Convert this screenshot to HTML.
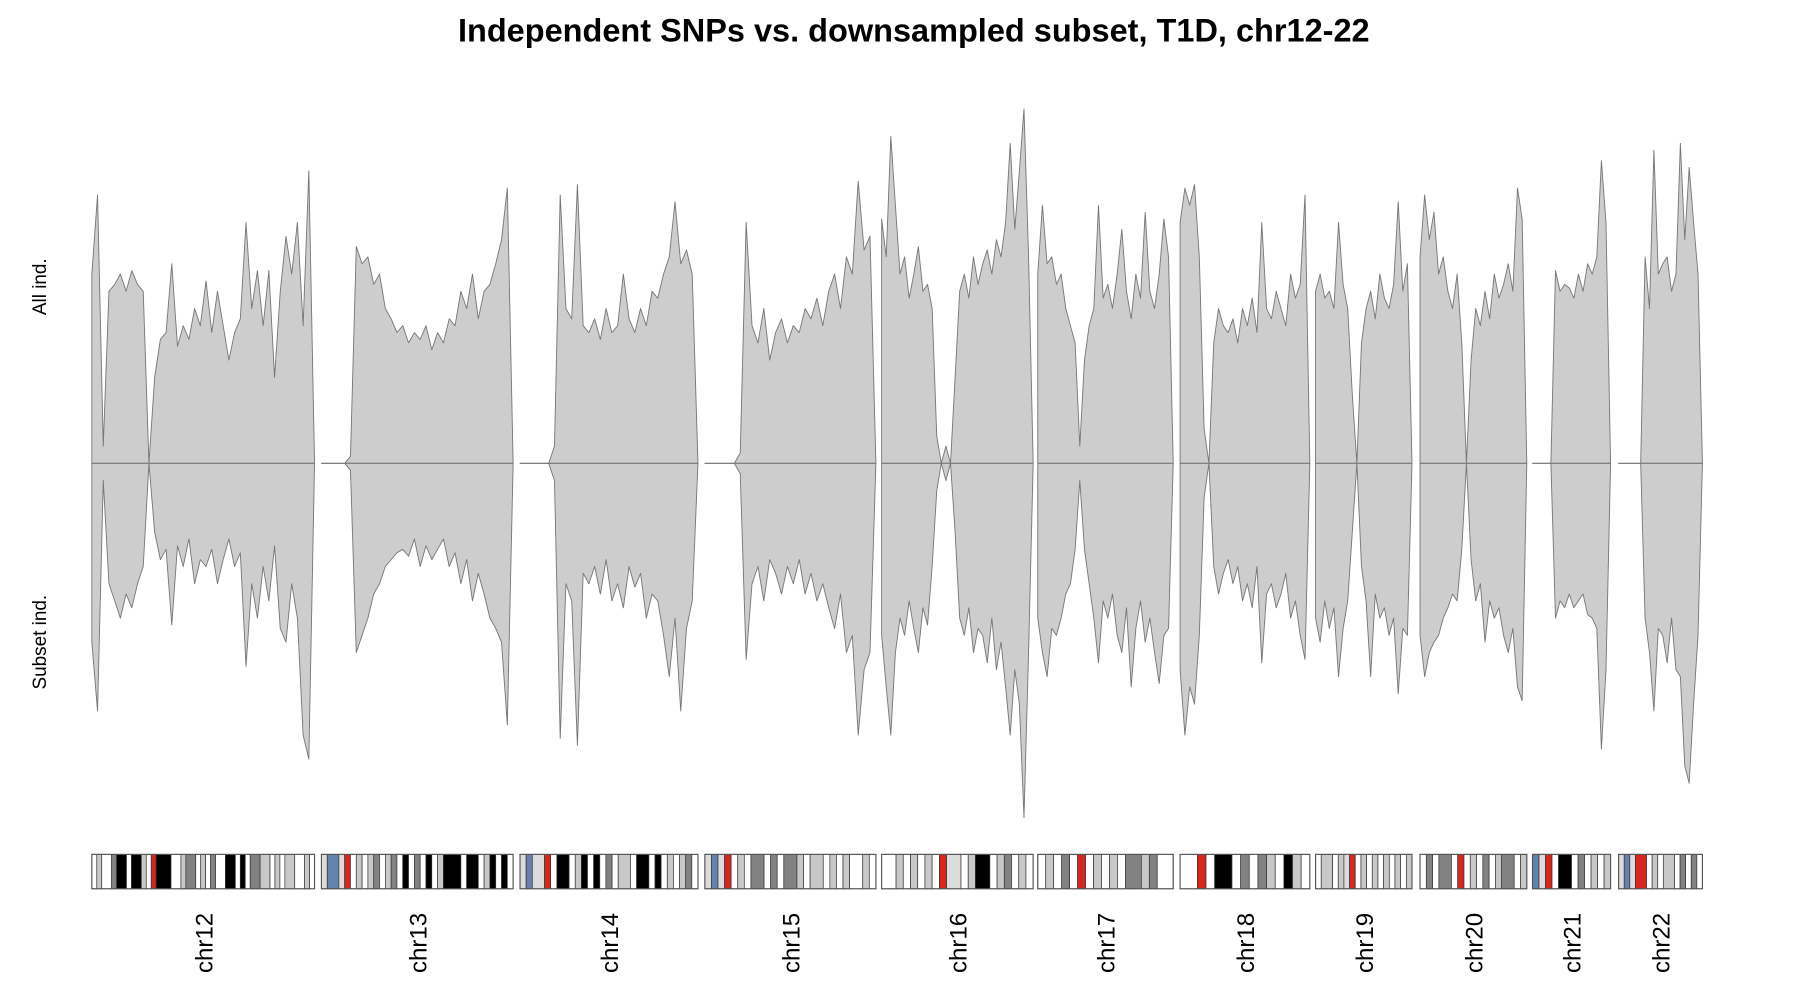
<!DOCTYPE html>
<html><head><meta charset="utf-8"><style>
html,body{margin:0;padding:0;background:#fff;}
svg{display:block;font-family:"Liberation Sans",sans-serif;}
</style></head><body>
<svg id="chart" width="1800" height="1000" viewBox="0 0 1568 872" preserveAspectRatio="none" xmlns="http://www.w3.org/2000/svg">
<text x="796" y="36" text-anchor="middle" font-size="28.3" font-weight="bold">Independent SNPs vs. downsampled subset, T1D, chr12-22</text>
<text transform="translate(40,250) rotate(-90)" text-anchor="middle" font-size="16.5">All ind.</text>
<text transform="translate(40,560) rotate(-90)" text-anchor="middle" font-size="16.5">Subset ind.</text>
<g id="plots"></g>
<g id="ideos"></g>
</svg>
<script>
const chromosomes = ["chr12","chr13","chr14","chr15","chr16","chr17","chr18","chr19","chr20","chr21","chr22"];
const chromStart = [80,280,453,614,768,904,1028,1146,1237,1335,1410];
const chromEnd = [274,447,608,763,900,1022,1141,1230,1330,1403,1483];
const allInd = [
[55,78,5,50,52,55,50,56,52,50,0,25,36,38,58,34,40,36,45,40,53,38,50,40,30,38,42,70,45,56,40,56,25,50,66,55,70,40,85,0],
[0,0,0,0,0,2,63,58,60,52,55,45,42,38,40,35,38,36,40,33,38,35,42,40,50,45,55,42,50,52,58,65,80,0],
[0,0,0,0,0,0,5,78,45,42,81,40,38,42,36,45,38,40,55,42,38,45,40,50,48,55,60,76,58,62,55,0],
[0,0,0,0,0,0,3,70,40,35,45,30,38,42,35,40,38,45,42,48,40,50,55,45,60,55,82,62,66,0],
[71,60,95,75,55,60,48,55,63,50,52,45,8,0,5,0,25,50,55,48,60,52,58,62,55,65,60,70,93,68,85,103,60,0],
[55,75,58,60,52,55,45,40,35,5,30,40,45,75,48,52,45,55,68,50,42,55,48,73,50,45,55,71,60,0],
[70,80,75,81,60,10,0,35,45,40,38,42,35,45,40,48,38,70,45,42,50,45,40,55,48,52,78,0],
[50,55,48,50,45,70,52,45,20,0,35,45,50,42,55,48,45,52,76,50,58,0],
[60,78,65,73,55,60,50,45,55,35,0,30,45,40,50,42,55,48,52,58,50,80,71,0],
[0,0,0,0,0,56,50,52,51,48,55,50,58,55,60,88,70,0],
[0,0,0,0,0,0,60,45,91,55,58,60,50,55,93,65,86,70,55,0]
];
const subsetInd = [
[52,72,5,35,40,45,38,42,35,30,0,20,28,25,47,24,30,22,35,28,30,25,35,28,22,30,26,59,35,45,30,40,24,48,52,35,45,79,86,0],
[0,0,0,0,0,2,55,50,45,38,35,30,28,26,25,27,22,30,24,28,25,22,30,26,35,28,40,32,38,45,48,52,76,0],
[0,0,0,0,0,0,5,80,35,40,82,32,35,30,38,28,40,35,42,30,36,32,45,38,40,50,62,45,72,48,40,0],
[0,0,0,0,0,0,3,57,35,30,40,28,32,38,30,35,28,38,32,40,35,42,48,38,55,50,79,60,55,0],
[50,65,79,55,45,50,40,48,55,42,47,30,8,0,5,0,20,45,50,42,55,48,50,58,45,60,52,65,79,60,70,103,55,0],
[45,55,62,48,50,45,38,35,25,5,25,35,45,58,40,45,38,50,55,42,65,48,40,52,45,55,64,50,48,0],
[60,79,65,70,50,10,0,30,38,32,28,35,30,40,35,42,30,58,38,35,42,38,32,45,40,50,57,0],
[45,52,40,48,42,62,48,40,20,0,30,40,62,38,45,42,50,45,67,48,50,0],
[50,62,55,52,50,45,42,38,40,25,0,28,40,35,52,40,45,42,50,55,48,65,69,0],
[0,0,0,0,0,45,40,42,38,42,40,38,44,45,48,83,60,0],
[0,0,0,0,0,0,45,55,72,48,50,58,45,60,62,88,93,70,50,0]
];
const bands = [
"wgwwmkkwkkgwrkkkwwgmmwgwmwwkkwkwmmggwgwggwwgw",
"lsslrwgwgmwgmwkwmwkwgkkkwkkwgkwkw",
"lsllrwkkwgkwkwmwggwkkwkwgwgmw",
"lslrwgwmmwmwmmgwggwgwgwwgw",
"wwgwgwgwrllwgkkwgmwgw",
"wgwmwrwgwgwmmgmww",
"wwrwkkwmwmgwkgw",
"wggwglrwgwgwgwgwg",
"wmwmmwrwgwmwgmmwg",
"slrwkkwmwgwg",
"lslrrwgwggwmwmw"
];
const bandColor = {w:"#ffffff",l:"#dcdcdc",g:"#c8c8c8",m:"#828282",k:"#000000",r:"#d7261e",s:"#6482ab"};
const BASE = 404, UNIT = 3;
const NS = "http://www.w3.org/2000/svg";
function yUp(v){return BASE - v*UNIT;}
function yDown(v){return BASE + v*UNIT;}
function xAt(c,i,n){return chromStart[c] + i*(chromEnd[c]-chromStart[c])/(n-1);}
const plots = document.getElementById('plots');
const ideos = document.getElementById('ideos');
function area(c, vals, yf, name){
  let d = "M" + chromStart[c] + "," + BASE;
  vals.forEach((v,i)=>{ d += " L" + xAt(c,i,vals.length).toFixed(2) + "," + yf(v).toFixed(2); });
  d += " L" + chromEnd[c] + "," + BASE + " Z";
  const p = document.createElementNS(NS,'path');
  p.setAttribute('d', d);
  p.setAttribute('fill', '#cdcdcd');
  p.setAttribute('stroke', '#777');
  p.setAttribute('stroke-width', '0.8');
  p.setAttribute('stroke-linejoin', 'round');
  
  
  plots.appendChild(p);
}
chromosomes.forEach((ch,c)=>{
  area(c, allInd[c], yUp, ch + '-all-density');
  area(c, subsetInd[c], yDown, ch + '-subset-density');
  const bl = document.createElementNS(NS,'line');
  bl.setAttribute('x1', chromStart[c]); bl.setAttribute('x2', chromEnd[c]);
  bl.setAttribute('y1', BASE); bl.setAttribute('y2', BASE);
  bl.setAttribute('stroke', '#777'); bl.setAttribute('stroke-width', '0.8');
  
  
  plots.appendChild(bl);
  const g = document.createElementNS(NS,'g');
  
  
  const s = bands[c], unit = (chromEnd[c]-chromStart[c])/s.length;
  let i = 0;
  while(i < s.length){
    let j = i; while(j < s.length && s[j] === s[i]) j++;
    const r = document.createElementNS(NS,'rect');
    r.setAttribute('x', chromStart[c] + i*unit); r.setAttribute('y', 745);
    r.setAttribute('width', (j-i)*unit); r.setAttribute('height', 30);
    r.setAttribute('fill', bandColor[s[i]]);
    r.setAttribute('stroke', '#333'); r.setAttribute('stroke-width', '0.6');
    
    
    g.appendChild(r);
    i = j;
  }
  const o = document.createElementNS(NS,'rect');
  o.setAttribute('x', chromStart[c]); o.setAttribute('y', 745);
  o.setAttribute('width', chromEnd[c]-chromStart[c]); o.setAttribute('height', 30);
  o.setAttribute('fill', 'none'); o.setAttribute('stroke', '#555'); o.setAttribute('stroke-width', '1');
  
  
  g.appendChild(o);
  ideos.appendChild(g);
  const t = document.createElementNS(NS,'text');
  const cx = (chromStart[c]+chromEnd[c])/2;
  t.setAttribute('transform', 'translate(' + (cx+8) + ',796) rotate(-90)');
  t.setAttribute('text-anchor', 'end');
  t.setAttribute('font-size', '21');
  t.textContent = ch;
  
  
  ideos.appendChild(t);
});
</script>
</body></html>
